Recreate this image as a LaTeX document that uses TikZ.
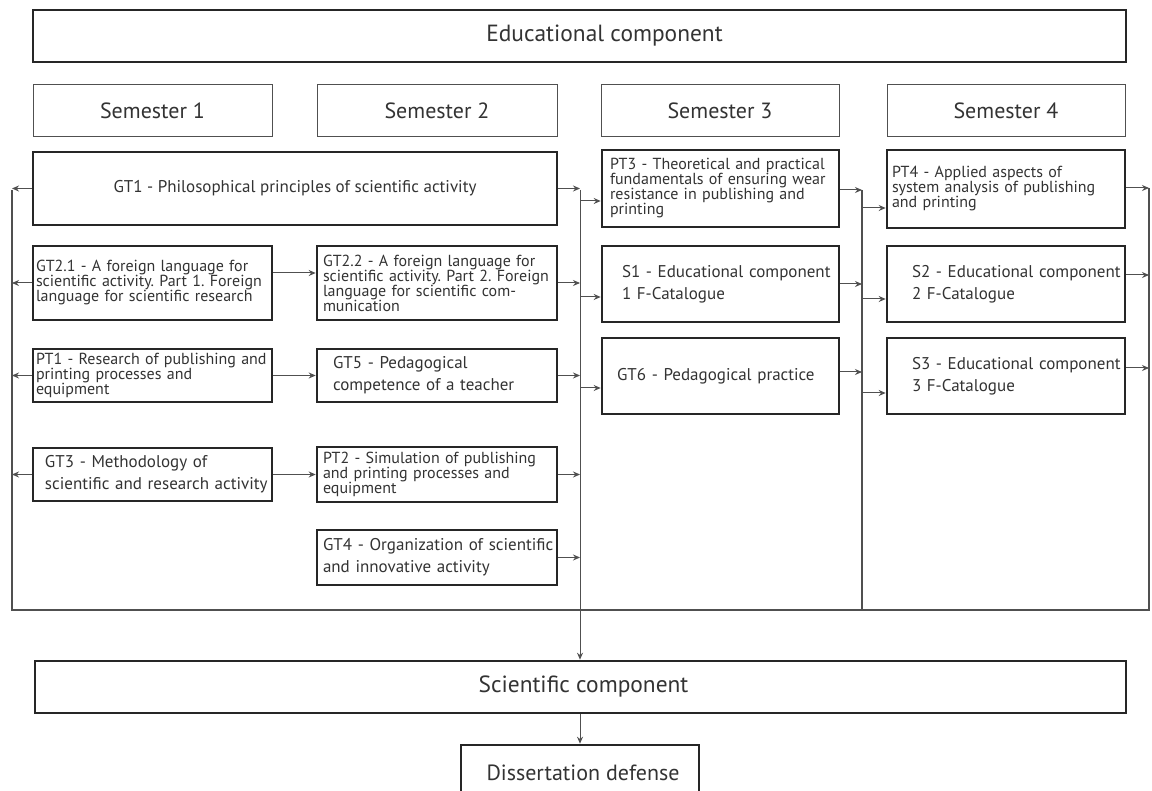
\documentclass[tikz,border=0pt]{standalone}
\usepackage{fontspec}
\setmainfont{PT Sans}
\usetikzlibrary{arrows.meta,calc}
\definecolor{ink}{HTML}{333333}
\definecolor{edge}{HTML}{262626}
\definecolor{wire}{HTML}{505050}
\newcommand\Lr[1]{\mbox{#1}}
\begin{document}
\frenchspacing
\begin{tikzpicture}[x=1pt,y=-1pt,
  bigbox/.style={draw=edge, line width=2.6pt, inner sep=0pt, text=ink,
    font=\fontsize{23.4}{26}\selectfont},
  sembox/.style={draw=wire, line width=1pt, inner sep=0pt, text=ink,
    minimum height=52pt, font=\fontsize{22}{24}\selectfont},
  tight/.style={draw=edge, line width=2.6pt, inner ysep=0pt, align=left, text=ink,
    font=\fontsize{16}{15}\selectfont},
  loose/.style={draw=edge, line width=2.6pt, inner ysep=0pt, align=left, text=ink,
    font=\fontsize{17}{22}\selectfont},
  arr/.style={draw=wire, line width=1pt, -{Stealth[length=7pt,width=6pt]}},
  bus/.style={draw=wire, line width=1.2pt}
]
\fill[white] (0,0) rectangle (1152,791);
\useasboundingbox (0,0) rectangle (1152,791);
\clip (0,0) rectangle (1152,791);

% header
\node[bigbox, minimum width=1093pt, minimum height=52pt] (edu) at (579.5,36) {\hspace*{50pt}Educational component};
\node[sembox, minimum width=239pt] (sem1) at (152.5,111) {Semester 1};
\node[sembox, minimum width=240pt] (sem2) at (437,111) {Semester 2};
\node[sembox, minimum width=238pt] (sem3) at (720,111) {Semester 3};
\node[sembox, minimum width=238pt] (sem4) at (1006,111) {Semester 4};

% column 1 & 2
\node[draw=edge, line width=2.6pt, inner sep=0pt, text=ink, font=\fontsize{17}{19}\selectfont,
  minimum width=524pt, minimum height=73pt] (gt1) at (295,188.5)
  {GT1 - Philosophical principles of scientific activity};
\node[tight, minimum width=239pt, minimum height=74pt, inner xsep=3pt, text width=233pt] (gt21) at (152.5,283)
  {\Lr{GT2.1 - A foreign language for}\\\Lr{scientific activity. Part 1. Foreign}\\\Lr{language for scientific research}};
\node[tight, minimum width=240pt, minimum height=74pt, inner xsep=6pt, text width=228pt] (gt22) at (437,283)
  {\Lr{GT2.2 - A foreign language for}\\\Lr{scientific activity. Part 2. Foreign}\\\Lr{language for scientific com-}\\\Lr{munication}};
\node[tight, minimum width=239pt, minimum height=53pt, inner xsep=3pt, text width=233pt] (pt1) at (152.5,375.5)
  {\Lr{PT1 - Research of publishing and}\\\Lr{printing processes and}\\\Lr{equipment}};
\node[loose, minimum width=240pt, minimum height=53pt, inner xsep=16pt, text width=208pt] (gt5) at (437,375.5)
  {\Lr{GT5 - Pedagogical}\\\Lr{competence of a teacher}};
\node[loose, minimum width=239pt, minimum height=53pt, inner xsep=12pt, text width=215pt] (gt3) at (152.5,474.5)
  {\Lr{GT3 - Methodology of}\\\Lr{scientific and research activity}};
\node[tight, minimum width=240pt, minimum height=55pt, inner xsep=6pt, text width=228pt] (pt2) at (437,474.5)
  {\Lr{PT2 - Simulation of publishing}\\\Lr{and printing processes and}\\\Lr{equipment}};
\node[loose, minimum width=240pt, minimum height=55pt, inner xsep=6pt, text width=228pt] (gt4) at (437,557.5)
  {\Lr{GT4 - Organization of scientific}\\\Lr{and innovative activity}};

% column 3
\node[tight, minimum width=237pt, minimum height=77pt, inner xsep=8pt, text width=221pt] (pt3) at (720.5,188.5)
  {\Lr{PT3 - Theoretical and practical}\\\Lr{fundamentals of ensuring wear}\\\Lr{resistance in publishing and}\\\Lr{printing}};
\node[loose, minimum width=237pt, minimum height=76pt, inner xsep=20pt, text width=197pt] (s1) at (720.5,284)
  {\Lr{S1 - Educational component}\\\Lr{1 F-Catalogue}};
\node[loose, minimum width=237pt, minimum height=76pt, inner xsep=15pt, text width=207pt] (gt6) at (720.5,376)
  {\Lr{GT6 - Pedagogical practice}};

% column 4
\node[tight, minimum width=238pt, minimum height=78pt, inner xsep=5pt, text width=228pt] (pt4) at (1006,189)
  {\Lr{PT4 - Applied aspects of}\\\Lr{system analysis of publishing}\\\Lr{and printing}};
\node[loose, minimum width=238pt, minimum height=76pt, inner xsep=25pt, text width=188pt] (s2) at (1006,284)
  {\Lr{S2 - Educational component}\\\Lr{2 F-Catalogue}};
\node[loose, minimum width=238pt, minimum height=76pt, inner xsep=25pt, text width=188pt] (s3) at (1006,376)
  {\Lr{S3 - Educational component}\\\Lr{3 F-Catalogue}};

% bottom
\node[bigbox, minimum width=1091pt, minimum height=52pt] (sci) at (580.5,687) {\hspace*{6pt}Scientific component};
\node[bigbox, minimum width=238pt, minimum height=56pt, font=\fontsize{22}{24}\selectfont] (diss) at (580,773) {\hspace*{6pt}Dissertation defense};

% buses
\coordinate (lbT) at (12,190);
\coordinate (lbB) at (12,610);
\coordinate (rbT) at (1149,188);
\coordinate (rbB) at (1149,610);
\coordinate (mbT) at (580,190);
\coordinate (nbT) at (862,190);
\coordinate (nbB) at (862,610);
\draw[bus] (lbT) -- (lbB) -- (rbB) -- (rbT);
\draw[bus] (nbT) -- (nbB);
\draw[arr] (mbT) -- (sci.north -| mbT);
\draw[arr] (sci.south -| diss.north) -- (diss.north);

% connector end points
\coordinate (gt21o) at ($(gt21.east)+(0,-10)$);
\coordinate (gt22i) at ($(gt22.west)+(0,-10)$);
\coordinate (pt3i) at ($(pt3.west)+(0,12.5)$);
\coordinate (s1i) at ($(s1.west)+(0,13)$);
\coordinate (gt6i) at ($(gt6.west)+(0,12)$);
\coordinate (pt3o) at ($(pt3.east)+(0,1.5)$);
\coordinate (gt6o) at ($(gt6.east)+(0,-4)$);
\coordinate (pt4i) at ($(pt4.west)+(0,19)$);
\coordinate (s2i) at ($(s2.west)+(0,15)$);
\coordinate (s3i) at ($(s3.west)+(0,17)$);
\coordinate (pt4o) at ($(pt4.east)+(0,-1)$);
\coordinate (s2o) at ($(s2.east)+(0,-9)$);
\coordinate (s3o) at ($(s3.east)+(0,-8)$);

% left outputs
\draw[arr] (gt1.west) -- (gt1.west -| lbT);
\draw[arr] (gt21.west) -- (gt21.west -| lbT);
\draw[arr] (pt1.west) -- (pt1.west -| lbT);
\draw[arr] (gt3.west) -- (gt3.west -| lbT);

% column 1 -> column 2
\draw[arr] (gt21o) -- (gt22i);
\draw[arr] (pt1.east) -- (gt5.west);
\draw[arr] (gt3.east) -- (pt2.west);

% column 2 -> middle bus
\draw[arr] (gt1.east) -- (gt1.east -| mbT);
\draw[arr] (gt22.east) -- (gt22.east -| mbT);
\draw[arr] (gt5.east) -- (gt5.east -| mbT);
\draw[arr] (pt2.east) -- (pt2.east -| mbT);
\draw[arr] (gt4.east) -- (gt4.east -| mbT);

% middle bus -> column 3
\draw[arr] (pt3i -| mbT) -- (pt3i);
\draw[arr] (s1i -| mbT) -- (s1i);
\draw[arr] (gt6i -| mbT) -- (gt6i);

% column 3 -> bus
\draw[arr] (pt3o) -- (pt3o -| nbT);
\draw[arr] (s1.east) -- (s1.east -| nbT);
\draw[arr] (gt6o) -- (gt6o -| nbT);

% bus -> column 4
\draw[arr] (pt4i -| nbT) -- (pt4i);
\draw[arr] (s2i -| nbT) -- (s2i);
\draw[arr] (s3i -| nbT) -- (s3i);

% column 4 -> right bus
\draw[arr] (pt4o) -- (pt4o -| rbT);
\draw[arr] (s2o) -- (s2o -| rbT);
\draw[arr] (s3o) -- (s3o -| rbT);
\end{tikzpicture}
\end{document}
